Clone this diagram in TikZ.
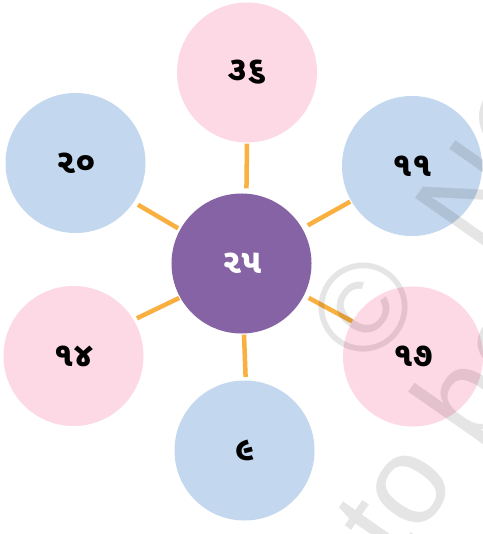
\documentclass[tikz,border=0pt]{standalone}
\usepackage{fontspec}
\setmainfont{Liberation Sans}
\newfontfamily\gujfont[Script=Gujarati]{Noto Sans Gujarati UI}
\definecolor{pinkc}{RGB}{253,216,229}
\definecolor{bluec}{RGB}{195,216,238}
\definecolor{purplec}{RGB}{133,99,164}
\definecolor{orangec}{RGB}{250,176,64}
\begin{document}
\begin{tikzpicture}[x=1pt,y=-1pt,
  bubble/.style={circle,minimum size=140pt,inner sep=0pt,
    font=\gujfont\bfseries\fontsize{34}{34}\selectfont},
  pinkbub/.style={bubble,fill=pinkc,text=black},
  bluebub/.style={bubble,fill=bluec,text=black},
  hub/.style={bubble,fill=purplec,text=white},
  conn/.style={draw=orangec,line width=4.5pt},
  wm/.style={inner sep=0pt,text=black,text opacity=0.1,rotate=55,
    font=\fontsize{126}{126}\selectfont}]
\useasboundingbox (0,0) rectangle (482,534);
\fill[white] (0,0) rectangle (482,534);
\node[hub] (c) at (241.5,263.5) {૨૫};
\node[pinkbub] (t) at (247,72.5) {૩૬};
\node[bluebub] (tl) at (75.5,163) {૨૦};
\node[bluebub] (tr) at (412,166) {૧૧};
\node[pinkbub] (bl) at (73.5,356) {૧૪};
\node[pinkbub] (br) at (413,356.5) {૧૭};
\node[bluebub] (b) at (244.5,450.5) {૯};
\draw[conn,shorten <=1pt,shorten >=5pt] (t.-90) -- (c.86);
\draw[conn,shorten <=5pt,shorten >=2.3pt] (tl.-34) -- (c.151);
\draw[conn,shorten <=1.2pt,shorten >=6.3pt] (tr.-150.6) -- (c.30);
\draw[conn,shorten <=3.6pt,shorten >=1pt] (bl.31.7) -- (c.209.3);
\draw[conn,shorten <=0pt,shorten >=5.3pt] (br.150.5) -- (c.-27);
\draw[conn,shorten <=3.5pt,shorten >=1pt] (b.89.6) -- (c.-88.2);
\node[wm,anchor=center] (wmc) at (363,308) {©};
\node[wm,anchor=base west] (wm1) at (480,257) {NCERT};
\node[wm,anchor=base west] (wm2) at (278,738) {not to be republished};
\end{tikzpicture}
\end{document}
